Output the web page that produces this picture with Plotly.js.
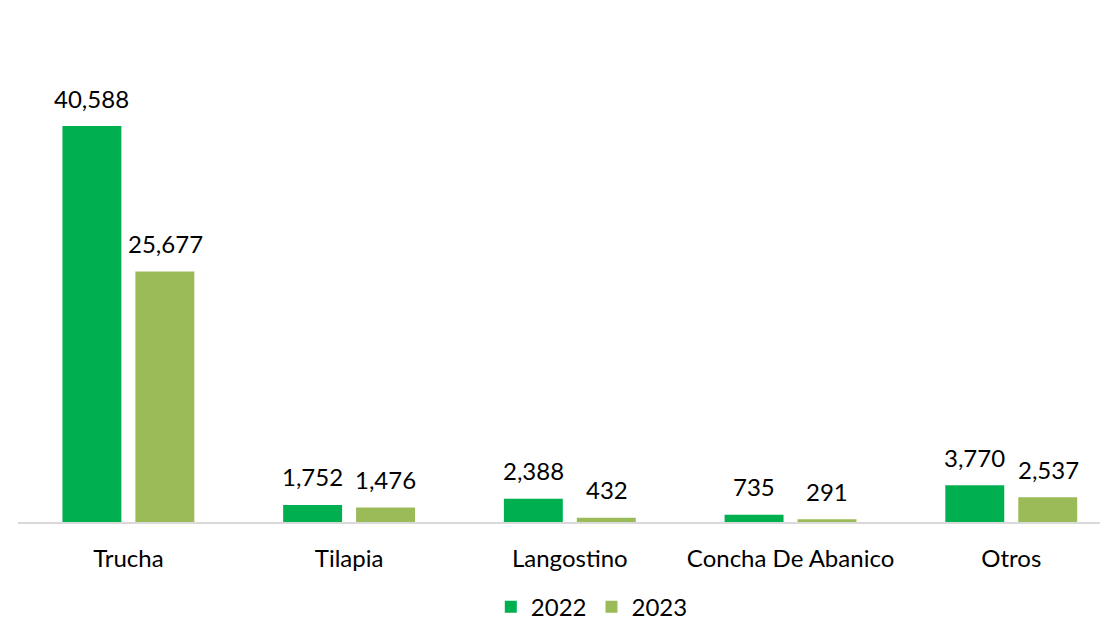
<!DOCTYPE html>
<html>
<head>
<meta charset="utf-8">
<script src="https://cdn.plot.ly/plotly-3.0.1.min.js"></script>
<style>html,body{margin:0;padding:0;background:#fff;}#chart{width:1100px;height:621px;}</style>
</head>
<body>
<div id="chart"></div>
<script>
const categories = ["Trucha", "Tilapia", "Langostino", "Concha De Abanico", "Otros"];
const values2022 = [40588, 1752, 2388, 735, 3770];
const values2023 = [25677, 1476, 432, 291, 2537];
const seriesNames = ["2022", "2023"];
const colors = ["#00B050", "#9BBB59"];

const FONT = "Lato, 'Open Sans', sans-serif";
const fmt = v => v.toLocaleString("en-US");

const traces = [values2022, values2023].map((vals, i) => ({
  type: "bar",
  name: seriesNames[i],
  x: categories,
  y: vals,
  marker: {color: colors[i]},
  hoverinfo: "x+y+name"
}));

const annotations = [];
[values2022, values2023].forEach((vals, i) => {
  vals.forEach((v, j) => {
    annotations.push({
      x: categories[j], y: v, xref: "x", yref: "y",
      text: fmt(v), showarrow: false,
      xshift: i === 0 ? -36.8 : 36.8,
      yshift: 28, yanchor: "middle", xanchor: "center",
      font: {family: FONT, size: 24, color: "#000"}
    });
  });
});

const layout = {
  width: 1100, height: 621,
  margin: {l: 18, r: 0, t: 83, b: 98.5},
  paper_bgcolor: "#fff", plot_bgcolor: "#fff",
  barmode: "group", bargap: 0.339, bargroupgap: 0.192,
  font: {family: FONT, size: 24, color: "#000"},
  xaxis: {
    type: "category", range: [-0.5, 4.402],
    showline: true, linecolor: "#d9d9d9", linewidth: 2,
    ticks: "", ticklabelstandoff: 14, showgrid: false, zeroline: false,
    tickfont: {family: FONT, size: 24, color: "#000"}, fixedrange: true
  },
  yaxis: {range: [0, 45000], visible: false, showgrid: false, zeroline: false, fixedrange: true},
  showlegend: true,
  legend: {
    orientation: "h", xref: "container", yref: "container",
    x: 0.538, xanchor: "center", y: 0.0225, yanchor: "middle",
    font: {family: FONT, size: 24, color: "#000"}, itemwidth: 30, traceorder: "normal"
  },
  annotations: annotations
};

Plotly.newPlot("chart", traces, layout, {displayModeBar: false, staticPlot: true});
</script>
</body>
</html>
